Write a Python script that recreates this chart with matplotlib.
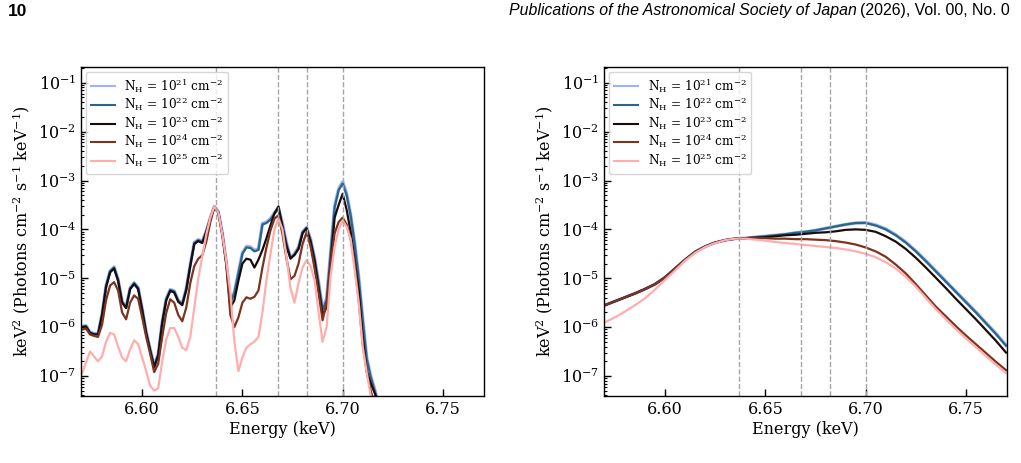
import numpy as np
import matplotlib
matplotlib.use('Agg')
import matplotlib.pyplot as plt
from matplotlib.ticker import LogLocator, NullLocator, NullFormatter

plt.rcParams['font.family'] = 'DejaVu Serif'
plt.rcParams['mathtext.fontset'] = 'dejavuserif'

# column densities of the five models
nh_exp = [21, 22, 23, 24, 25]

# Fe XXV line energies (keV), dashed guides
line_e = [6.637, 6.668, 6.682, 6.700]

# ---- left panel: binned line spectra, log10 of keV^2 flux, 0.002 keV bins ----
e_left = np.round(np.arange(6.570, 6.7201, 0.002), 3)

left_21 = [-5.98, -5.97, -6.10, -6.13, -6.13, -5.73, -5.15, -4.85, -4.77, -5.02,
           -5.47, -5.59, -5.20, -5.09, -5.19, -5.62, -6.09, -6.45, -6.79, -6.55,
           -5.89, -5.42, -5.23, -5.26, -5.45, -5.52, -5.21, -4.72, -4.27, -4.21,
           -4.25, -4.03, -3.76, -3.53, -3.64, -4.08, -4.68, -5.48, -5.28, -4.88,
           -4.48, -4.35, -4.36, -4.43, -4.40, -3.88, -3.85, -3.78, -3.66, -3.56,
           -3.88, -4.28, -4.57, -4.50, -4.36, -4.05, -3.96, -4.20, -4.58, -5.08,
           -5.62, -5.42, -4.46, -3.52, -3.17, -3.03, -3.27, -3.70, -4.27, -4.97,
           -5.82, -6.62, -7.00, -7.28, -7.58, -7.88]
left_22 = [-5.99, -5.98, -6.11, -6.14, -6.14, -5.74, -5.16, -4.86, -4.78, -5.03,
           -5.48, -5.60, -5.21, -5.10, -5.20, -5.63, -6.10, -6.46, -6.80, -6.56,
           -5.90, -5.43, -5.24, -5.27, -5.46, -5.53, -5.22, -4.73, -4.28, -4.22,
           -4.26, -4.04, -3.77, -3.54, -3.65, -4.10, -4.70, -5.50, -5.30, -4.90,
           -4.50, -4.37, -4.38, -4.45, -4.42, -3.90, -3.87, -3.80, -3.68, -3.58,
           -3.90, -4.30, -4.58, -4.52, -4.38, -4.06, -3.97, -4.22, -4.60, -5.10,
           -5.65, -5.45, -4.50, -3.55, -3.20, -3.06, -3.30, -3.72, -4.30, -5.00,
           -5.85, -6.65, -7.02, -7.30, -7.60, -7.90]
left_23 = [-6.00, -5.99, -6.12, -6.15, -6.15, -5.75, -5.18, -4.88, -4.80, -5.05,
           -5.50, -5.61, -5.22, -5.12, -5.22, -5.65, -6.12, -6.48, -6.82, -6.58,
           -5.92, -5.45, -5.26, -5.29, -5.48, -5.55, -5.24, -4.75, -4.30, -4.24,
           -4.28, -4.05, -3.78, -3.54, -3.65, -4.10, -4.70, -5.60, -5.45, -5.05,
           -4.70, -4.60, -4.62, -4.78, -4.62, -4.42, -4.18, -3.92, -3.67, -3.53,
           -3.96, -4.35, -4.60, -4.52, -4.40, -4.08, -3.98, -4.25, -4.65, -5.20,
           -5.75, -5.60, -4.70, -3.76, -3.50, -3.27, -3.60, -4.05, -4.63, -5.25,
           -6.20, -6.90, -7.15, -7.35, -7.60, -7.90]
left_24 = [-6.05, -6.03, -6.15, -6.18, -6.20, -5.95, -5.45, -5.15, -5.08, -5.25,
           -5.70, -5.84, -5.50, -5.35, -5.42, -5.80, -6.20, -6.55, -6.92, -6.75,
           -6.20, -5.71, -5.43, -5.50, -5.75, -5.88, -5.60, -5.10, -4.75, -4.60,
           -4.53, -4.25, -3.85, -3.55, -3.65, -4.10, -4.72, -5.75, -6.00, -5.80,
           -5.50, -5.39, -5.42, -5.38, -5.25, -4.78, -4.37, -4.02, -3.78, -3.71,
           -4.10, -4.60, -5.02, -4.95, -4.70, -4.30, -4.06, -4.35, -4.80, -5.30,
           -5.86, -5.50, -4.70, -4.08, -3.85, -3.76, -3.90, -4.20, -4.69, -5.45,
           -6.35, -6.90, -7.30, -7.60, -7.90, -8.10]
left_25 = [-6.95, -6.72, -6.50, -6.60, -6.70, -6.60, -6.30, -6.12, -6.15, -6.40,
           -6.62, -6.70, -6.45, -6.27, -6.35, -6.62, -6.90, -7.20, -7.30, -7.25,
           -6.70, -6.25, -6.02, -6.02, -6.20, -6.42, -6.47, -6.20, -5.60, -5.00,
           -4.55, -4.10, -3.76, -3.53, -3.65, -4.10, -4.65, -5.30, -6.30, -6.90,
           -6.62, -6.42, -6.35, -6.30, -6.20, -5.70, -5.04, -4.50, -4.00, -3.78,
           -4.00, -4.57, -5.20, -5.50, -5.10, -4.78, -4.63, -4.75, -5.04, -5.70,
           -6.30, -6.00, -4.95, -4.35, -4.00, -3.82, -3.95, -4.20, -4.84, -5.50,
           -6.41, -6.94, -7.40, -7.80, -8.10, -8.40]

# ---- right panel: smooth model, log10 of keV^2 flux, 0.005 keV steps ----
e_right = np.round(np.arange(6.570, 6.7701, 0.005), 3)

right_21 = [-5.55, -5.47, -5.39, -5.31, -5.22, -5.12, -4.98, -4.80, -4.62, -4.46,
            -4.35, -4.27, -4.22, -4.19, -4.18, -4.16, -4.14, -4.12, -4.10, -4.07,
            -4.05, -4.02, -3.98, -3.94, -3.90, -3.87, -3.86, -3.91, -3.99, -4.11,
            -4.26, -4.44, -4.64, -4.85, -5.06, -5.27, -5.48, -5.69, -5.91, -6.13,
            -6.37]
right_22 = [-5.55, -5.47, -5.39, -5.31, -5.22, -5.12, -4.98, -4.80, -4.62, -4.46,
            -4.35, -4.27, -4.22, -4.19, -4.18, -4.16, -4.14, -4.12, -4.10, -4.07,
            -4.05, -4.02, -3.98, -3.94, -3.90, -3.87, -3.87, -3.92, -4.00, -4.12,
            -4.27, -4.45, -4.65, -4.86, -5.07, -5.28, -5.49, -5.70, -5.92, -6.14,
            -6.38]
right_23 = [-5.55, -5.47, -5.39, -5.31, -5.22, -5.12, -4.98, -4.80, -4.62, -4.46,
            -4.35, -4.27, -4.22, -4.19, -4.18, -4.17, -4.16, -4.14, -4.12, -4.11,
            -4.09, -4.07, -4.06, -4.04, -4.01, -4.00, -4.01, -4.05, -4.14, -4.25,
            -4.40, -4.58, -4.78, -4.99, -5.20, -5.42, -5.63, -5.84, -6.06, -6.28,
            -6.52]
right_24 = [-5.55, -5.47, -5.39, -5.31, -5.22, -5.12, -4.98, -4.80, -4.62, -4.46,
            -4.35, -4.27, -4.22, -4.19, -4.18, -4.18, -4.18, -4.19, -4.19, -4.20,
            -4.20, -4.21, -4.22, -4.24, -4.27, -4.31, -4.37, -4.45, -4.56, -4.72,
            -4.90, -5.12, -5.35, -5.58, -5.78, -5.98, -6.17, -6.35, -6.53, -6.71,
            -6.88]
right_25 = [-5.90, -5.80, -5.68, -5.55, -5.41, -5.23, -5.03, -4.84, -4.64, -4.48,
            -4.36, -4.28, -4.22, -4.19, -4.19, -4.21, -4.23, -4.26, -4.28, -4.30,
            -4.32, -4.34, -4.36, -4.38, -4.41, -4.45, -4.50, -4.57, -4.67, -4.80,
            -4.97, -5.17, -5.40, -5.63, -5.84, -6.04, -6.23, -6.41, -6.59, -6.77,
            -6.94]

left_sets = [left_21, left_22, left_23, left_24, left_25]
right_sets = [right_21, right_22, right_23, right_24, right_25]

try:
    cmap = plt.get_cmap('berlin')
    colors = [cmap(v) for v in np.linspace(0, 1, 5)]
except ValueError:
    colors = ['#9eb0ff', '#2d6f91', '#110a08', '#7a2f1f', '#ffadad']
widths = [2.4, 1.6, 1.6, 1.6, 1.6]

W, H = 1021, 463
fig = plt.figure(figsize=(W / 100, H / 100), dpi=100)
ax1 = fig.add_axes([81 / W, 67 / H, 403 / W, 329 / H])
ax2 = fig.add_axes([604 / W, 67 / H, 403 / W, 329 / H])


def style_axis(ax):
    ax.set_yscale('log')
    ax.set_xlim(6.5695, 6.7705)
    ax.set_ylim(3.9e-8, 0.21)
    ax.set_xticks([6.60, 6.65, 6.70, 6.75])
    ax.set_xticklabels(['6.60', '6.65', '6.70', '6.75'])
    ax.xaxis.set_minor_locator(NullLocator())
    ax.set_yticks([1e-7, 1e-6, 1e-5, 1e-4, 1e-3, 1e-2, 1e-1])
    ax.yaxis.set_minor_locator(LogLocator(base=10, subs=np.arange(2, 10), numticks=20))
    ax.yaxis.set_minor_formatter(NullFormatter())
    ax.tick_params(which='both', direction='in', top=False, right=False,
                   labelsize=11.5)
    ax.tick_params(which='major', length=5, width=1)
    ax.tick_params(which='minor', length=2.5, width=0.8)
    for s in ax.spines.values():
        s.set_linewidth(1.0)
    ax.set_xlabel('Energy (keV)', fontsize=11.5, labelpad=2)
    ax.set_ylabel(r'keV$^2$ (Photons cm$^{-2}$ s$^{-1}$ keV$^{-1}$)', fontsize=11.5)


for i in range(5):
    lab = r'$\mathrm{N_H}$ = $10^{%d}$ cm$^{-2}$' % nh_exp[i]
    ax1.plot(e_left, 10 ** np.array(left_sets[i]),
             color=colors[i], lw=widths[i], label=lab)
    ax2.plot(e_right, 10 ** np.array(right_sets[i]),
             color=colors[i], lw=widths[i], label=lab)

for ax in (ax1, ax2):
    for e in line_e:
        ax.axvline(e, color='0.65', ls='--', lw=1.0)
    style_axis(ax)
    leg = ax.legend(loc='upper left', fontsize=8.7, handlelength=2.0,
                    labelspacing=0.05, borderaxespad=0.4)
    for h in leg.get_lines():
        h.set_linewidth(1.5)

# page header
fig.text(8 / W, 1 - 11 / H, '10', fontsize=12.5, fontweight='bold',
         family='Liberation Sans', va='center')
t2 = fig.text(1010 / W, 1 - 11 / H, '(2026), Vol. 00, No. 0', fontsize=11.4,
              family='Liberation Sans', va='center', ha='right')
fig.canvas.draw()
bb = t2.get_window_extent()
fig.text((bb.x0 - 3) / W, 1 - 11 / H,
         'Publications of the Astronomical Society of Japan', fontsize=11.4,
         family='Liberation Sans', style='italic', va='center', ha='right')

fig.savefig('out.png', dpi=100)
